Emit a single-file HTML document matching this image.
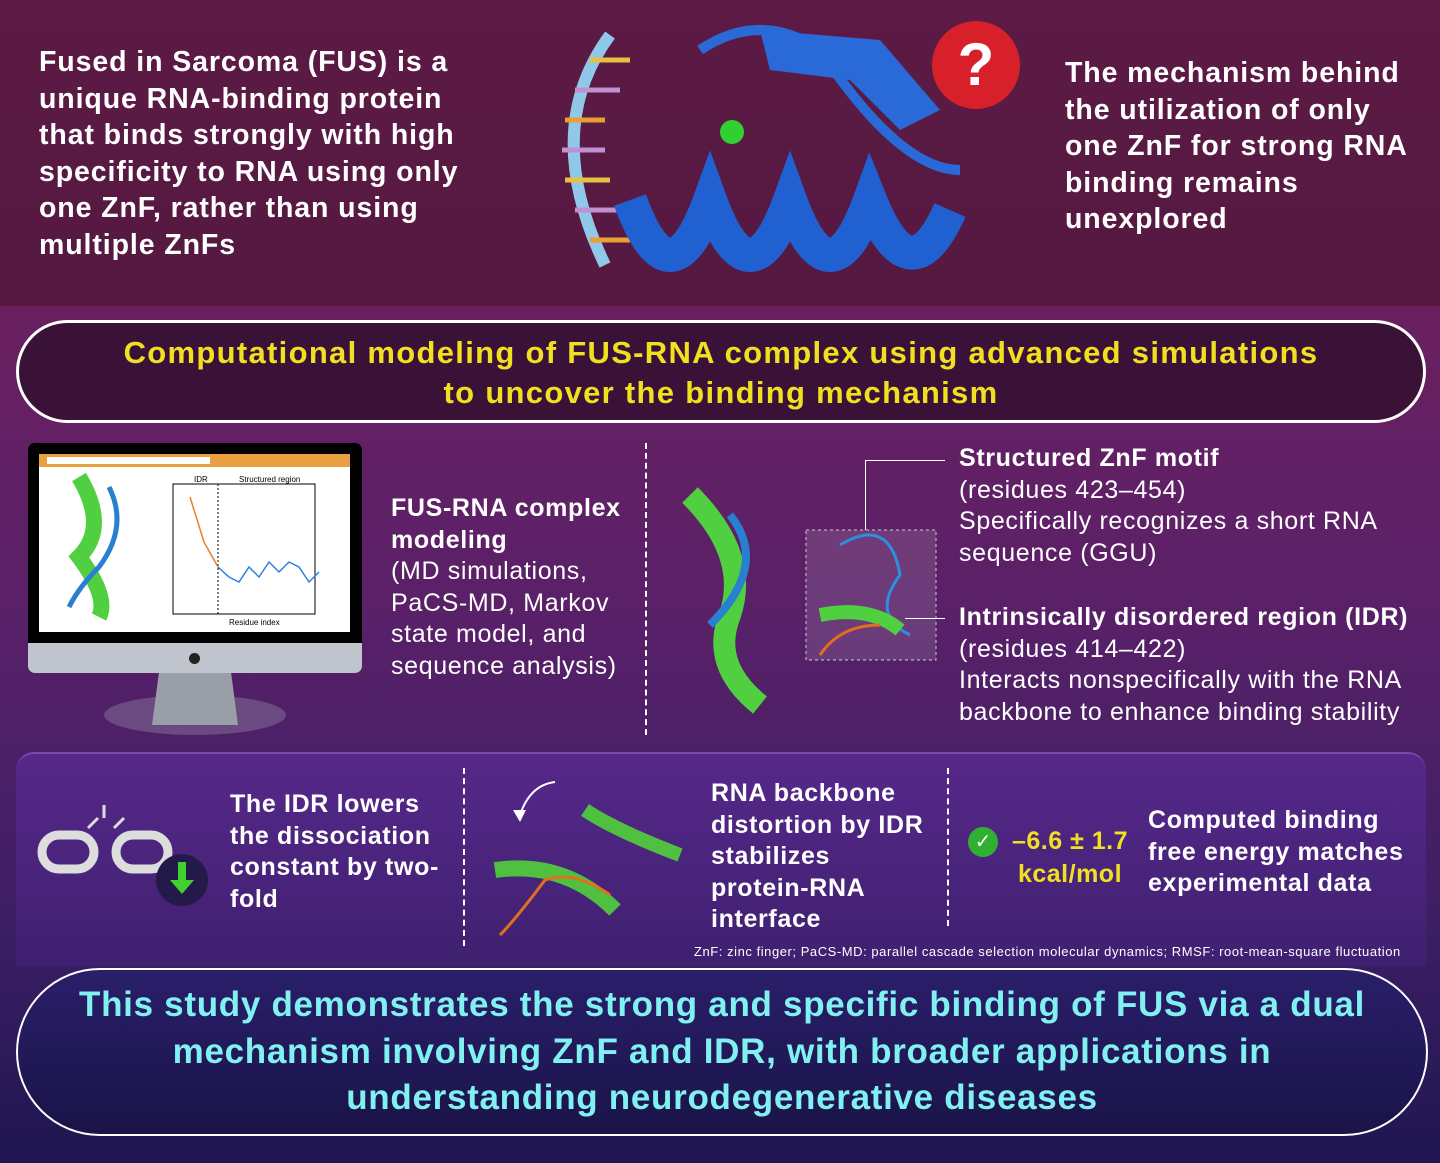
<!DOCTYPE html>
<html><head><meta charset="utf-8"><style>
*{margin:0;padding:0;box-sizing:border-box}
body{width:1440px;height:1163px;overflow:hidden;font-family:"Liberation Sans",sans-serif;position:relative;
background:linear-gradient(180deg,#5b1a47 0px,#5a1b45 305px,#6a2060 306px,#5a2068 600px,#3f1f66 900px,#1f1650 1163px);color:#fff}
.a{position:absolute}
.b{font-weight:bold}
.m{letter-spacing:0.65px}
</style></head><body>
<div class="a" style="left:0;top:0;width:1440px;height:306px;background:linear-gradient(180deg,#5c1a45,#551940)"></div>
<div class="a b" style="left:39px;top:44px;width:440px;font-size:28.5px;line-height:36.5px;letter-spacing:0.9px">Fused in Sarcoma (FUS) is a unique RNA-binding protein that binds strongly with high specificity to RNA using only one ZnF, rather than using multiple ZnFs</div>
<div class="a b" style="left:1065px;top:55px;width:365px;font-size:28.5px;line-height:36.5px;letter-spacing:0.9px">The mechanism behind the utilization of only one ZnF for strong RNA binding remains unexplored</div>
<svg class="a" style="left:520px;top:10px" width="520" height="290">
<path d="M90 25 Q20 120 85 255" stroke="#8fc8e8" stroke-width="12" fill="none"/>
<g stroke-width="5"><line x1="70" y1="50" x2="110" y2="50" stroke="#e8c040"/><line x1="55" y1="80" x2="100" y2="80" stroke="#c090d0"/><line x1="45" y1="110" x2="85" y2="110" stroke="#e8a030"/><line x1="42" y1="140" x2="85" y2="140" stroke="#c090d0"/><line x1="45" y1="170" x2="90" y2="170" stroke="#e8c040"/><line x1="55" y1="200" x2="100" y2="200" stroke="#c090d0"/><line x1="70" y1="230" x2="110" y2="230" stroke="#e8a030"/></g>
<path d="M110 190 Q150 300 190 190 Q230 300 270 190 Q310 300 350 190 Q390 290 430 200" stroke="#2060d0" stroke-width="34" fill="none"/>
<path d="M240 20 L360 30 L420 100 L380 120 L330 70 L250 60 Z" fill="#2a6ad8"/>
<path d="M180 40 Q240 0 300 40 Q380 160 440 160" stroke="#2a6ad8" stroke-width="10" fill="none"/>
<circle cx="212" cy="122" r="12" fill="#30d030"/>
<circle cx="456" cy="55" r="44" fill="#d8202a"/>
<text x="456" y="75" font-size="60" font-weight="bold" fill="#fff" text-anchor="middle" font-family="Liberation Sans">?</text>
</svg>
<div class="a" style="left:16px;top:320px;width:1410px;height:103px;border:3px solid #fff;border-radius:52px;background:#3a1238"></div>
<div class="a b" style="left:16px;top:333px;width:1410px;text-align:center;font-size:31px;line-height:40px;color:#f0e020;letter-spacing:1.3px">Computational modeling of FUS-RNA complex using advanced simulations<br>to uncover the binding mechanism</div>
<!-- monitor -->
<div class="a" style="left:28px;top:443px;width:334px;height:230px;background:#000;border-radius:7px"></div>
<div class="a" style="left:28px;top:643px;width:334px;height:30px;background:#c0c4cc;border-radius:0 0 7px 7px"></div>
<div class="a" style="left:189px;top:653px;width:11px;height:11px;border-radius:50%;background:#222"></div>
<div class="a" style="left:104px;top:695px;width:182px;height:40px;border-radius:50%;background:#6a4a80"></div>
<div class="a" style="left:152px;top:673px;width:86px;height:52px;background:#9a9ea6;clip-path:polygon(8% 0,92% 0,100% 100%,0 100%)"></div>
<div class="a" style="left:39px;top:454px;width:311px;height:178px;background:#fff"></div>
<div class="a" style="left:39px;top:454px;width:311px;height:13px;background:#e8a040"></div>
<div class="a" style="left:47px;top:457px;width:163px;height:7px;background:#fff"></div>
<svg class="a" style="left:39px;top:467px" width="311" height="165" font-family="Liberation Sans">
<path d="M40 10 Q70 60 40 90 Q70 130 60 150" stroke="#50d040" stroke-width="16" fill="none"/>
<path d="M70 20 Q90 60 60 100 Q40 120 30 140" stroke="#2a80d0" stroke-width="5" fill="none"/>
<rect x="134" y="17" width="142" height="130" fill="none" stroke="#000"/>
<line x1="179" y1="17" x2="179" y2="147" stroke="#000" stroke-dasharray="2,2"/>
<polyline points="151,30 165,75 179,100" stroke="#e88020" stroke-width="1.5" fill="none"/>
<polyline points="179,100 190,110 200,115 210,100 220,110 230,95 240,105 250,95 260,100 270,115 280,105" stroke="#2a80e0" stroke-width="1.5" fill="none"/>
<text x="155" y="15" font-size="8">IDR</text><text x="200" y="15" font-size="8">Structured region</text>
<text x="190" y="158" font-size="8">Residue index</text>
</svg>
<div class="a m" style="left:391px;top:493px;width:255px;font-size:25px;line-height:31.5px"><b>FUS-RNA complex modeling</b><br>(MD simulations, PaCS-MD, Markov state model, and sequence analysis)</div>
<div class="a" style="left:645px;top:443px;height:292px;border-left:2px dashed #fff"></div>
<svg class="a" style="left:670px;top:455px" width="290" height="260">
<path d="M20 40 Q80 100 60 160 Q40 210 90 250" stroke="#50d040" stroke-width="22" fill="none"/>
<path d="M60 60 Q100 110 40 170" stroke="#2a80d0" stroke-width="8" fill="none"/>
<rect x="136" y="75" width="130" height="130" fill="rgba(255,255,255,0.12)" stroke="#ccc" stroke-dasharray="3,3"/>
<path d="M170 90 Q220 60 230 120 Q200 160 240 180" stroke="#2a90e0" stroke-width="3" fill="none"/>
<path d="M150 160 Q200 150 230 175" stroke="#50d040" stroke-width="14" fill="none"/>
<path d="M150 200 Q170 170 210 170" stroke="#e07020" stroke-width="3" fill="none"/>
</svg>
<div class="a" style="left:865px;top:460px;width:80px;height:70px;border-left:1px solid #fff;border-top:1px solid #fff"></div>
<div class="a" style="left:905px;top:618px;width:40px;border-top:1px solid #fff"></div>
<div class="a m" style="left:959px;top:443px;width:470px;font-size:25px;line-height:31.5px"><b>Structured ZnF motif</b><br>(residues 423–454)<br>Specifically recognizes a short RNA sequence (GGU)</div>
<div class="a m" style="left:959px;top:602px;width:480px;font-size:25px;line-height:31.5px"><b>Intrinsically disordered region (IDR)</b><br>(residues 414–422)<br>Interacts nonspecifically with the RNA backbone to enhance binding stability</div>
<!-- bottom panel -->
<div class="a" style="left:16px;top:752px;width:1410px;height:215px;border-radius:18px 18px 0 0;background:linear-gradient(180deg,#56288a,#3f2070);border-top:2px solid #7a4aa8"></div>
<svg class="a" style="left:36px;top:800px" width="180" height="110">
<rect x="6" y="35" width="52" height="34" rx="17" fill="none" stroke="#ddd" stroke-width="9"/>
<rect x="80" y="35" width="52" height="34" rx="17" fill="none" stroke="#ddd" stroke-width="9"/>
<line x1="52" y1="28" x2="62" y2="18" stroke="#ddd" stroke-width="3"/><line x1="68" y1="5" x2="68" y2="18" stroke="#ddd" stroke-width="3"/><line x1="78" y1="28" x2="88" y2="18" stroke="#ddd" stroke-width="3"/>
<circle cx="146" cy="80" r="26" fill="#241a4a"/>
<path d="M142 62 h8 v18 h8 l-12 14 l-12 -14 h8z" fill="#40d030"/>
</svg>
<div class="a b m" style="left:230px;top:789px;width:225px;font-size:25px;line-height:31.5px">The IDR lowers the dissociation constant by two-fold</div>
<div class="a" style="left:463px;top:768px;height:178px;border-left:2px dashed #fff"></div>
<svg class="a" style="left:485px;top:770px" width="215" height="180">
<path d="M100 40 Q130 60 195 85" stroke="#50c040" stroke-width="14" fill="none"/>
<path d="M10 100 Q80 90 130 140" stroke="#50c040" stroke-width="16" fill="none"/>
<path d="M15 165 Q30 150 60 110 Q90 100 125 125" stroke="#e07020" stroke-width="3" fill="none"/>
<path d="M70 12 Q45 15 35 45" stroke="#fff" stroke-width="2" fill="none"/><path d="M28 40 l7 12 l6 -12z" fill="#fff"/>
</svg>
<div class="a b m" style="left:711px;top:778px;width:215px;font-size:25px;line-height:31.5px">RNA backbone distortion by IDR stabilizes protein-RNA interface</div>
<div class="a" style="left:947px;top:768px;height:158px;border-left:2px dashed #fff"></div>
<div class="a" style="left:968px;top:827px;width:30px;height:30px;border-radius:50%;background:#30b030;color:#fff;font-size:20px;text-align:center;line-height:30px">✓</div>
<div class="a b" style="left:1000px;top:825px;width:140px;text-align:center;font-size:25px;line-height:33px;color:#f0e020;letter-spacing:0.5px">–6.6 ± 1.7 kcal/mol</div>
<div class="a b m" style="left:1148px;top:805px;width:280px;font-size:25px;line-height:31.5px">Computed binding free energy matches experimental data</div>
<div class="a" style="left:694px;top:944px;font-size:13px;white-space:nowrap;letter-spacing:0.55px">ZnF: zinc finger; PaCS-MD: parallel cascade selection molecular dynamics; RMSF: root-mean-square fluctuation</div>
<div class="a" style="left:16px;top:968px;width:1412px;height:168px;border:2px solid #fff;border-radius:84px;background:linear-gradient(180deg,#2a1e6a,#1a1448)"></div>
<div class="a b" style="left:16px;top:982px;width:1412px;text-align:center;font-size:35px;line-height:46.5px;color:#80f0f0;letter-spacing:0.7px">This study demonstrates the strong and specific binding of FUS via a dual<br>mechanism involving ZnF and IDR, with broader applications in<br>understanding neurodegenerative diseases</div>
</body></html>
